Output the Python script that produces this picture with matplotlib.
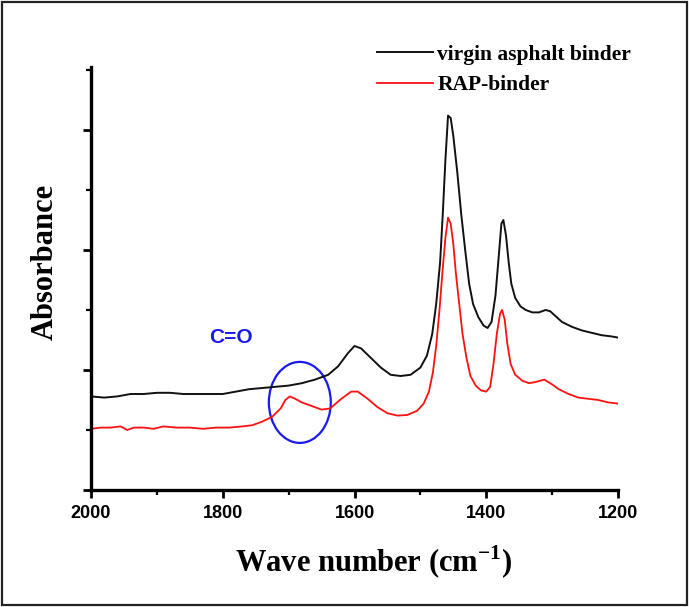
import matplotlib
matplotlib.use("Agg")
import matplotlib.pyplot as plt
from matplotlib.patches import Ellipse, Rectangle
from matplotlib.ticker import MultipleLocator

plt.rcParams["mathtext.fontset"] = "custom"
plt.rcParams["mathtext.rm"] = "Liberation Serif"
plt.rcParams["mathtext.bf"] = "Liberation Serif:bold"

# ---- data ----
wn_virgin = [2000, 1980, 1960, 1940, 1920, 1900, 1880, 1860, 1840, 1820, 1800, 1780, 1760,
             1740, 1720, 1700, 1680, 1660, 1640, 1625, 1610, 1600, 1590, 1575, 1560, 1545,
             1530, 1515, 1500, 1490, 1482, 1476, 1470, 1466, 1462, 1458, 1454, 1450, 1444,
             1438, 1432, 1426, 1420, 1412, 1404, 1398, 1392, 1386, 1381, 1377, 1374, 1370,
             1366, 1362, 1356, 1348, 1340, 1330, 1320, 1310, 1303, 1295, 1285, 1270, 1255,
             1240, 1225, 1210, 1200]
abs_virgin = [0.78, 0.77, 0.78, 0.80, 0.80, 0.81, 0.81, 0.80, 0.80, 0.80, 0.80, 0.82, 0.84,
              0.85, 0.86, 0.87, 0.89, 0.92, 0.96, 1.03, 1.14, 1.20, 1.18, 1.10, 1.02, 0.96,
              0.95, 0.96, 1.02, 1.12, 1.30, 1.55, 1.90, 2.30, 2.75, 3.12, 3.10, 2.95, 2.65,
              2.30, 2.00, 1.72, 1.55, 1.44, 1.37, 1.35, 1.40, 1.62, 1.95, 2.22, 2.25, 2.12,
              1.90, 1.72, 1.60, 1.53, 1.50, 1.48, 1.48, 1.50, 1.49, 1.45, 1.40, 1.36, 1.33,
              1.31, 1.29, 1.28, 1.27]

wn_rap = [2000, 1985, 1970, 1955, 1945, 1935, 1920, 1905, 1890, 1870, 1850, 1830, 1810,
          1790, 1770, 1755, 1740, 1725, 1712, 1705, 1698, 1690, 1680, 1665, 1650, 1637,
          1620, 1605, 1595, 1580, 1565, 1550, 1535, 1520, 1505, 1495, 1487, 1481, 1476,
          1471, 1466, 1462, 1458, 1454, 1450, 1446, 1441, 1436, 1430, 1424, 1416, 1408,
          1400, 1394, 1389, 1384, 1379, 1376, 1372, 1368, 1363, 1356, 1345, 1335, 1325,
          1312, 1300, 1290, 1275, 1260, 1245, 1230, 1215, 1200]
abs_rap = [0.51, 0.52, 0.52, 0.53, 0.50, 0.52, 0.52, 0.51, 0.53, 0.52, 0.52, 0.51, 0.52,
           0.52, 0.53, 0.54, 0.57, 0.61, 0.68, 0.75, 0.78, 0.76, 0.73, 0.70, 0.67, 0.68,
           0.76, 0.82, 0.82, 0.76, 0.69, 0.64, 0.62, 0.625, 0.66, 0.72, 0.82, 0.98, 1.20,
           1.50, 1.85, 2.10, 2.27, 2.22, 2.05, 1.80, 1.55, 1.30, 1.10, 0.95, 0.87, 0.83,
           0.82, 0.86, 1.05, 1.30, 1.47, 1.50, 1.42, 1.22, 1.05, 0.96, 0.91, 0.89, 0.90,
           0.92, 0.88, 0.84, 0.80, 0.77, 0.76, 0.75, 0.73, 0.72]

series_labels = ["virgin asphalt binder", "RAP-binder"]
x_ticks = [2000, 1800, 1600, 1400, 1200]
annotation_text = "C=O"

# ---- figure ----
fig = plt.figure(figsize=(6.89, 6.07), dpi=100)
ax = fig.add_axes([91 / 689, 1 - 490 / 607, 527 / 689, 423 / 607])

ax.plot(wn_virgin, abs_virgin, color="#111111", lw=1.4, label=series_labels[0])
ax.plot(wn_rap, abs_rap, color="#ff1010", lw=1.3, label=series_labels[1])

ax.set_xlim(2000, 1200)
ax.set_ylim(0, 3.525)

ax.add_patch(Ellipse((1683, 0.73), width=94, height=0.675, fill=False,
                     edgecolor="#1a1aee", lw=1.6))
ax.text(1788, 1.27, annotation_text, color="#1a1aee", fontsize=15, fontweight="bold",
        family="Liberation Sans", ha="center", va="center")

for s in ["top", "right"]:
    ax.spines[s].set_visible(False)
for s in ["left", "bottom"]:
    ax.spines[s].set_linewidth(2.4)

ax.set_xticks(x_ticks)
ax.xaxis.set_minor_locator(MultipleLocator(100))
ax.yaxis.set_major_locator(MultipleLocator(1))
ax.yaxis.set_minor_locator(MultipleLocator(0.5))
ax.tick_params(axis="both", which="major", direction="out", length=6, width=2)
ax.tick_params(axis="both", which="minor", direction="out", length=3.5, width=1.6)
ax.tick_params(axis="y", labelleft=False)
ax.set_xticklabels([str(t) for t in x_ticks], fontsize=13, fontweight="bold",
                   family="Liberation Sans")
ax.tick_params(axis="x", pad=5)

ax.set_xlabel("Wave number (cm$^{\\mathbf{-1}}$)", fontsize=22, fontweight="bold",
              family="Liberation Serif")
ax.xaxis.set_label_coords(0.537, -0.128)
ax.set_ylabel("Absorbance", fontsize=22, fontweight="bold", family="Liberation Serif")
ax.yaxis.set_label_coords(-0.06, 0.539)

fig.legend(loc="upper left", bbox_to_anchor=(377 / 689, 1 - 44.5 / 607), frameon=False,
           prop={"family": "Liberation Serif", "weight": "bold", "size": 15.5},
           handlelength=2.6, handletextpad=0.2, labelspacing=0.5, borderaxespad=0,
           borderpad=0)

fig.patches.append(Rectangle((0.003, 0.003), 0.994, 0.994, transform=fig.transFigure,
                             fill=False, edgecolor="#222222", lw=1.6, figure=fig))

fig.savefig("out.png", dpi=100)
